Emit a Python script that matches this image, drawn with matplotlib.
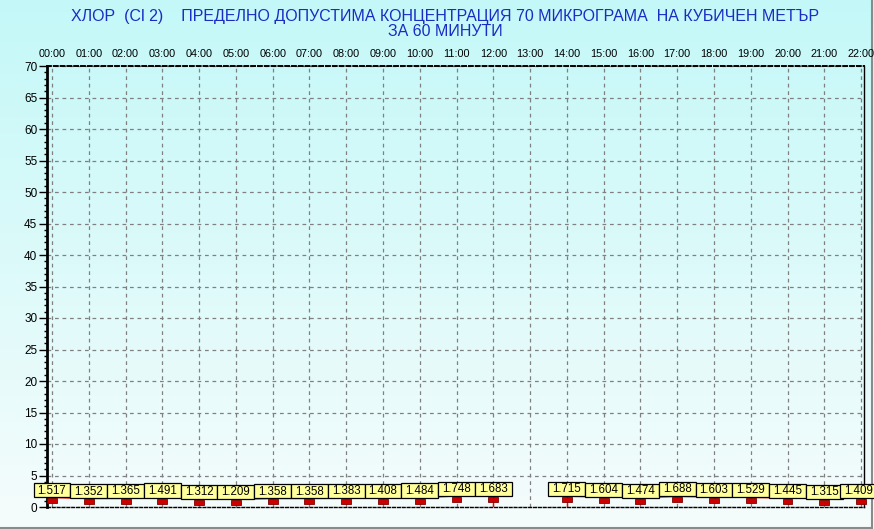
import numpy as np
import matplotlib
matplotlib.use("Agg")
import matplotlib.pyplot as plt
from matplotlib.lines import Line2D
from matplotlib.ticker import MultipleLocator

# hourly readings, 13:00 missing
hours = list(range(23))
hour_labels = [f"{h:02d}:00" for h in hours]
values = [1.517, 1.352, 1.365, 1.491, 1.312, 1.209, 1.358, 1.358, 1.383, 1.408,
          1.484, 1.748, 1.683, None, 1.715, 1.604, 1.474, 1.688, 1.603, 1.529,
          1.445, 1.315, 1.409]
y_ticks = list(range(0, 75, 5))

title1 = "ХЛОР  (Cl 2)    ПРЕДЕЛНО ДОПУСТИМА КОНЦЕНТРАЦИЯ 70 МИКРОГРАМА  НА КУБИЧЕН МЕТЪР"
title2 = "ЗА 60 МИНУТИ"

FONT = "Liberation Sans"
BLUE = "#1a2cc4"

W, H = 874, 529
fig = plt.figure(figsize=(W / 100, H / 100), dpi=100)

# background gradient over whole figure
bg = fig.add_axes([0, 0, 1, 1], zorder=-10)
top = np.array([196, 248, 248]) / 255
bot = np.array([246, 252, 252]) / 255
t = np.linspace(0, 1, 256)[:, None]
grad = (top * (1 - t) + bot * t)[:, None, :]
bg.imshow(grad, aspect="auto", extent=[0, 1, 0, 1])
bg.set_axis_off()

# panel edge (behind the chart)
fig.add_artist(Line2D([0, 871.5 / W], [1.5 / H, 1.5 / H], color="#8a8a8a",
                      lw=1.5, zorder=-5))
fig.add_artist(Line2D([871.5 / W, 871.5 / W], [1.5 / H, 1], color="#8a8a8a",
                      lw=1.5, zorder=-5))

ax = fig.add_axes([47 / W, 22 / H, (864 - 47) / W, (507 - 66) / H])
ax.set_facecolor("none")

x = np.array(hours, dtype=float)
y = np.array([np.nan if v is None else v for v in values])
ok = ~np.isnan(y)

x0, x1 = -0.136, 22.08
ax.set_xlim(x0, x1)
ax.set_ylim(0, 70)

# series line + drops next to the gap
ax.plot(x, y, color="red", lw=1, zorder=3, clip_on=False)
gap = np.isnan(y)
edge = ok & (np.roll(gap, 1) | np.roll(gap, -1))
ax.vlines(x[edge], 0, y[edge], color="red", lw=1, zorder=3)

# small red markers just below the value
ax.bar(x[ok], 0.8, bottom=y[ok] - 0.95, width=0.27, color="#cc0000",
       edgecolor="#800000", lw=0.6, zorder=4, clip_on=False)

# yellow value labels, kept inside the picture on the right
px_per_hour = (864 - 47) / (x1 - x0)
fig_right = x1 + (W - 864) / px_per_hour
lx = np.minimum(x[ok], fig_right - 0.42)
boxes = ax.bar(lx, 2.25, bottom=y[ok], width=1.0, color="#ffff9c",
               edgecolor="black", lw=0.9, zorder=5)
for b in boxes:
    b.set_clip_on(False)
for xi, yi in zip(lx, y[ok]):
    ax.text(xi, yi + 1.1, f"{yi:.3f}", ha="center", va="center",
            fontsize=8.3, family=FONT, color="black", zorder=6, clip_on=False)

# axes styling
ax.xaxis.tick_top()
ax.set_xticks(hours)
ax.set_xticklabels(hour_labels, family=FONT, fontsize=7.8)
ax.tick_params(axis="x", length=0, pad=5)
ax.set_yticks(y_ticks)
ax.set_yticklabels([str(v) for v in y_ticks], family=FONT, fontsize=8.5)
ax.yaxis.set_minor_locator(MultipleLocator(1))
ax.tick_params(axis="y", which="major", length=6, width=1, pad=1, direction="out")
ax.tick_params(axis="y", which="minor", length=2.5, width=1, direction="out")

ax.grid(True, color="#808080", lw=0.9, linestyle=(0, (3, 3)), zorder=1)
ax.set_axisbelow(True)

ax.spines["left"].set_linewidth(2)
ax.spines["right"].set_linewidth(1)
ax.spines["top"].set_linewidth(1.4)
ax.spines["top"].set_linestyle((0, (2, 1.5)))
ax.spines["bottom"].set_linewidth(1)
ax.spines["bottom"].set_linestyle((0, (2, 1.5)))

fig.text(445 / W, 1 - 16 / H, title1, ha="center", va="center",
         fontsize=11.5, family=FONT, color=BLUE)
fig.text(445 / W, 1 - 32 / H, title2, ha="center", va="center",
         fontsize=11.5, family=FONT, color=BLUE)

fig.savefig("out.png", dpi=100)
